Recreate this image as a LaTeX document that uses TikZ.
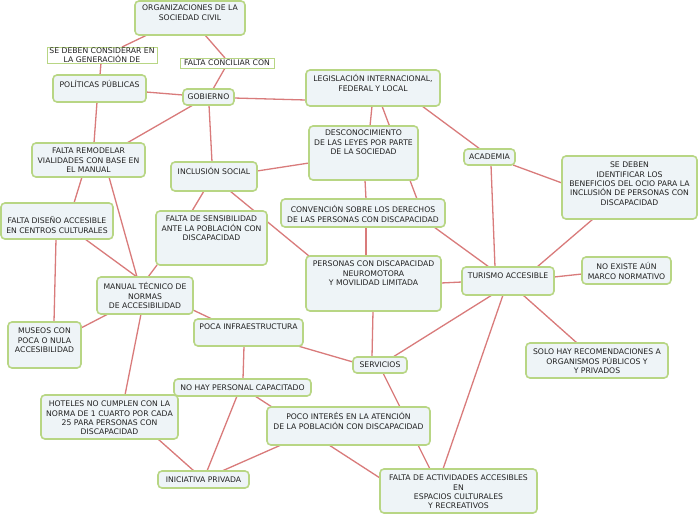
\documentclass[tikz,border=0pt]{standalone}
\usepackage{fontspec}
\setmainfont{DejaVu Sans}
\usetikzlibrary{backgrounds}
\definecolor{boxfill}{HTML}{EEF4F7}
\definecolor{boxline}{HTML}{B8D684}
\definecolor{edgec}{HTML}{D97B7B}
\definecolor{txtc}{HTML}{222222}
\newcommand\cpt[8]{%
  \node[#1, minimum width={(#5-#3)*1pt}, minimum height={(#6-#4)*1pt}] (#2) at ({(#3+#5)/2},{(#4+#6)/2}) {};
  \node[txt] (#2-t) at ({(#3+#5)/2},{#4+#7-4.7}) {\rule{0pt}{7.5pt}#8};}
\newcommand\lk[6]{\draw[edge] ([shift={(#2,#3)}]#1.north west) -- ([shift={(#5,#6)}]#4.north west);}
\begin{document}
\begin{tikzpicture}[x=1pt,y=-1pt,
  cbox/.style={rectangle, draw=boxline, fill=boxfill, line width=1.6pt, rounded corners=4pt, inner sep=0pt, outer sep=0pt},
  lbox/.style={rectangle, draw=boxline, fill=white, line width=0.9pt, inner sep=0pt, outer sep=0pt},
  txt/.style={anchor=north, align=center, inner sep=0pt, outer sep=0pt, text=txtc, font=\fontsize{7.7}{9.3}\selectfont},
  edge/.style={draw=edgec, line width=1.3pt}]
\useasboundingbox (0,0) rectangle (699,515);
% concepts
\cpt{cbox}{org}{135}{1}{245}{35}{7}{ORGANIZACIONES DE LA\\SOCIEDAD CIVIL}
\cpt{lbox}{sdb}{47}{47}{157}{63}{4}{SE DEBEN CONSIDERAR EN\\[-0.8pt]LA GENERACIÓN DE}
\cpt{lbox}{fcc}{180}{58}{274}{68}{5}{FALTA CONCILIAR CON}
\cpt{cbox}{pol}{53}{75}{146}{102}{9.5}{POLÍTICAS PÚBLICAS}
\cpt{cbox}{gob}{183}{89}{234}{105}{8}{GOBIERNO}
\cpt{cbox}{leg}{306}{70}{440}{106}{9}{LEGISLACIÓN INTERNACIONAL,\\FEDERAL Y LOCAL}
\cpt{cbox}{des}{309}{126}{418}{180}{7}{DESCONOCIMIENTO\\DE LAS LEYES POR PARTE\\DE LA SOCIEDAD}
\cpt{cbox}{aca}{464}{149}{515}{165}{8}{ACADEMIA}
\cpt{cbox}{sdi}{562}{156}{697}{219}{9}{SE DEBEN\\IDENTIFICAR LOS\\BENEFICIOS DEL OCIO PARA LA\\INCLUSIÓN DE PERSONAS CON\\DISCAPACIDAD}
\cpt{cbox}{fre}{32}{143}{145}{177}{8}{FALTA REMODELAR\\VIALIDADES CON BASE EN\\EL MANUAL}
\cpt{cbox}{inc}{171}{162}{257}{191}{10}{INCLUSIÓN SOCIAL}
\cpt{cbox}{con}{281}{199}{445}{227}{11}{CONVENCIÓN SOBRE LOS DERECHOS\\DE LAS PERSONAS CON DISCAPACIDAD}
\cpt{cbox}{fdi}{1}{203}{113}{239}{18}{FALTA DISEÑO ACCESIBLE\\EN CENTROS CULTURALES}
\cpt{cbox}{fse}{156}{211}{267}{265}{8}{FALTA DE SENSIBILIDAD\\ANTE LA POBLACIÓN CON\\DISCAPACIDAD}
\cpt{cbox}{per}{306}{256}{441}{311}{8}{PERSONAS CON DISCAPACIDAD\\NEUROMOTORA\\Y MOVILIDAD LIMITADA}
\cpt{cbox}{tur}{462}{267}{554}{295}{9}{TURISMO ACCESIBLE}
\cpt{cbox}{noe}{582}{257}{671}{284}{10}{NO EXISTE AÚN\\MARCO NORMATIVO}
\cpt{cbox}{man}{97}{277}{193}{314}{10}{MANUAL TÉCNICO DE\\NORMAS\\DE ACCESIBILIDAD}
\cpt{cbox}{pin}{194}{319}{303}{346}{8}{POCA INFRAESTRUCTURA}
\cpt{cbox}{mus}{8}{322}{81}{368}{9}{MUSEOS CON\\POCA O NULA\\ACCESIBILIDAD}
\cpt{cbox}{ser}{353}{357}{407}{373}{8}{SERVICIOS}
\cpt{cbox}{sol}{526}{343}{668}{378}{9}{SOLO HAY RECOMENDACIONES A\\ORGANISMOS PÚBLICOS Y\\Y PRIVADOS}
\cpt{cbox}{nhp}{174}{379}{311}{396}{8.5}{NO HAY PERSONAL CAPACITADO}
\cpt{cbox}{hot}{41}{395}{178}{439}{9}{HOTELES NO CUMPLEN CON LA\\NORMA DE 1 CUARTO POR CADA\\25 PARA PERSONAS CON\\DISCAPACIDAD}
\cpt{cbox}{pit}{267}{407}{430}{445}{10}{POCO INTERÉS EN LA ATENCIÓN\\DE LA POBLACIÓN CON DISCAPACIDAD}
\cpt{cbox}{ini}{158}{471}{249}{488}{8.5}{INICIATIVA PRIVADA}
\cpt{cbox}{fac}{380}{469}{537}{513}{9}{FALTA DE ACTIVIDADES ACCESIBLES\\EN\\ESPACIOS CULTURALES\\Y RECREATIVOS}
% connectors
\begin{pgfonlayer}{background}
\fill[white] (0,0) rectangle (699,515);
\lk{org}{12}{34}{sdb}{75}{0}
\lk{sdb}{54}{16}{pol}{47}{0}
\lk{org}{70}{34}{fcc}{45}{0}
\lk{fcc}{45}{10}{gob}{30}{0}
\lk{pol}{93}{17}{gob}{0}{6}
\lk{gob}{51}{9}{leg}{0}{30}
\lk{gob}{10}{16}{fre}{95}{0}
\lk{gob}{26}{16}{inc}{41}{0}
\lk{pol}{44}{27}{fre}{62}{0}
\lk{leg}{66}{36}{des}{61}{0}
\lk{leg}{76}{36}{con}{136}{0}
\lk{des}{56}{54}{con}{85}{0}
\lk{leg}{116}{36}{aca}{16}{0}
\lk{aca}{49}{16}{sdi}{0}{27}
\lk{aca}{27}{16}{tur}{33}{0}
\lk{des}{0}{37}{inc}{86}{9}
\lk{con}{85}{28}{per}{60}{0}
\lk{con}{153}{28}{tur}{27}{0}
\lk{sdi}{31}{63}{tur}{75}{0}
\lk{tur}{92}{10}{noe}{0}{17}
\lk{per}{135}{27}{tur}{0}{15}
\lk{inc}{33}{29}{fse}{36}{0}
\lk{inc}{59}{29}{per}{3}{0}
\lk{fre}{50}{34}{fdi}{73}{0}
\lk{fre}{77}{34}{man}{40}{0}
\lk{fdi}{84}{36}{man}{40}{0}
\lk{fse}{1}{54}{man}{51}{0}
\lk{fdi}{55}{36}{mus}{46}{0}
\lk{man}{11}{37}{mus}{73}{6}
\lk{man}{44}{37}{hot}{84}{0}
\lk{man}{96}{33}{pin}{18}{0}
\lk{pin}{50}{27}{nhp}{69}{0}
\lk{pin}{104}{27}{ser}{0}{5}
\lk{ser}{19}{0}{per}{67}{55}
\lk{ser}{40}{0}{tur}{30}{28}
\lk{ser}{30}{16}{pit}{133}{0}
\lk{nhp}{81}{17}{pit}{5}{0}
\lk{nhp}{63}{17}{ini}{49}{0}
\lk{pit}{14}{38}{ini}{64}{0}
\lk{pit}{62}{38}{fac}{0}{9}
\lk{pit}{151}{38}{fac}{50}{0}
\lk{tur}{41}{28}{fac}{63}{0}
\lk{hot}{117}{44}{ini}{36}{0}
\lk{tur}{61}{28}{sol}{51}{0}
\end{pgfonlayer}
\end{tikzpicture}
\end{document}
